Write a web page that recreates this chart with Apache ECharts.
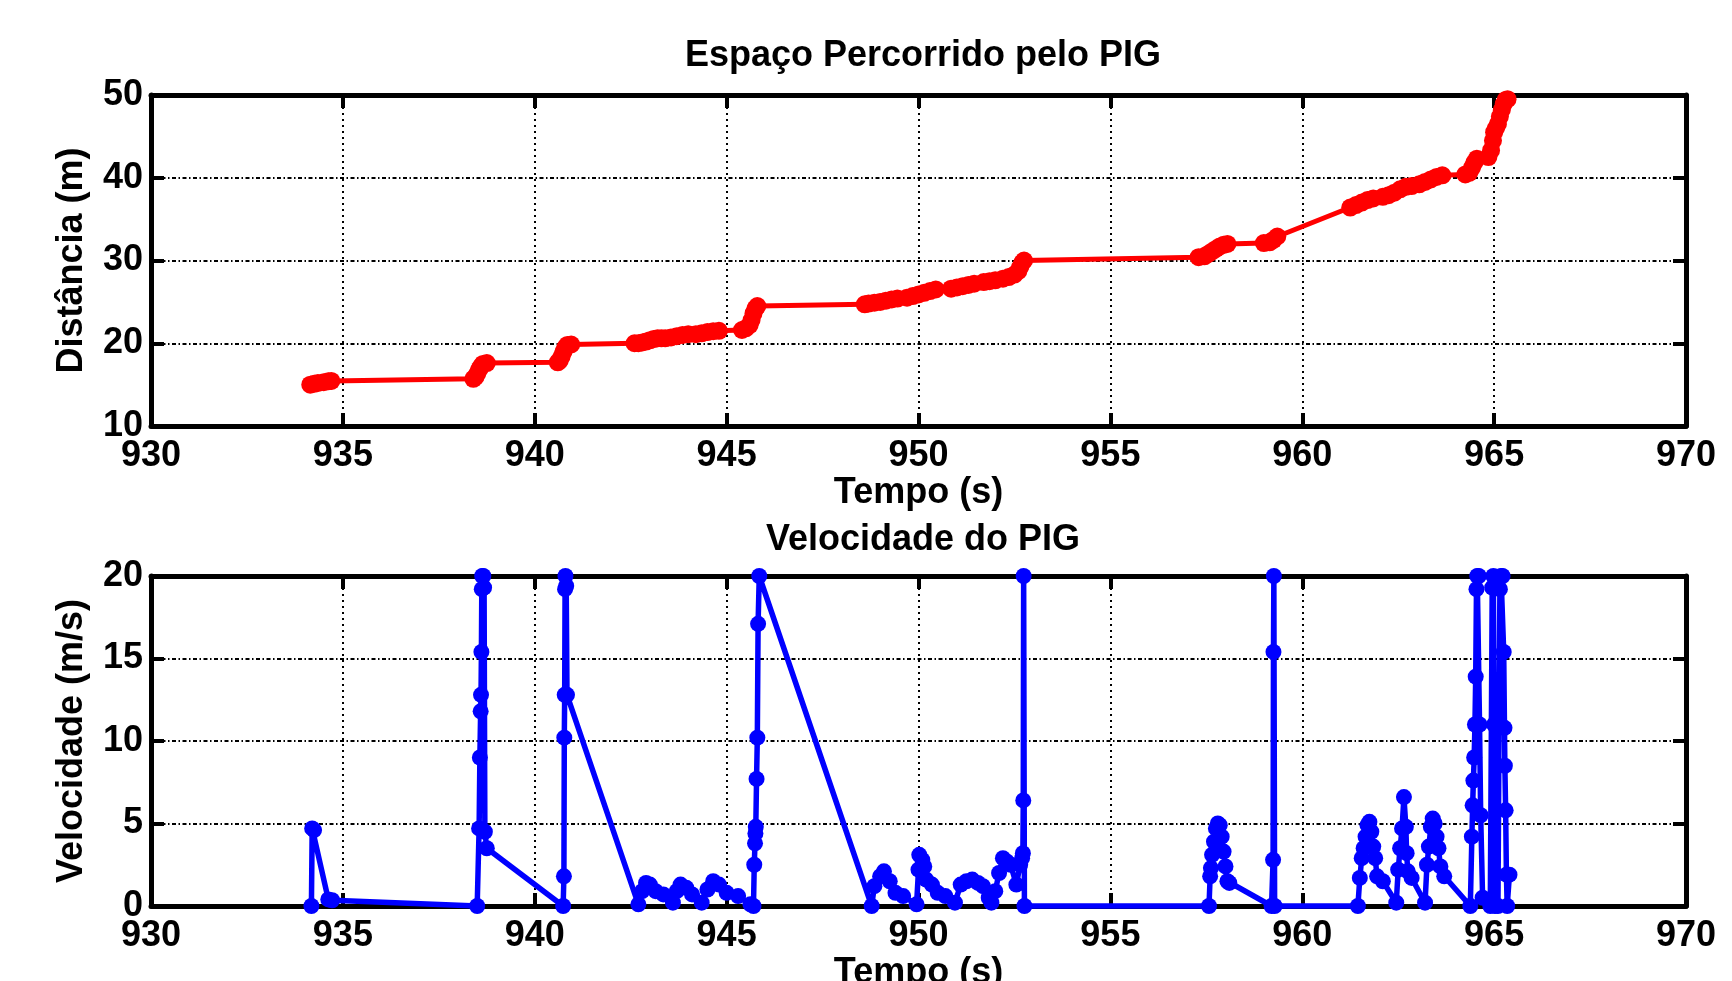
<!DOCTYPE html>
<html>
<head>
<meta charset="utf-8">
<script src="https://cdn.jsdelivr.net/npm/echarts@6/dist/echarts.min.js"></script>
<style>
	html, body { margin: 0; padding: 0; background: #fff; }
	#chart { width: 1732px; height: 981px; }
</style>
</head>
<body>
<div id="chart"></div>
<script>
const distTime = [
	934.15, 934.25, 934.35, 934.5, 934.62, 934.7,
	938.4,
	938.45, 938.5, 938.55, 938.6, 938.65, 938.75,
	940.6,
	940.65, 940.7, 940.75, 940.8, 940.85, 940.95,
	942.6,
	942.7, 942.8, 942.9, 943.0, 943.1, 943.2, 943.3,
	943.4, 943.55, 943.7, 943.85, 944.0,
	944.2, 944.35, 944.5, 944.65, 944.8,
	945.4, 945.5, 945.6, 945.65, 945.7, 945.75, 945.8,
	948.6,
	948.7, 948.85, 949.0, 949.15, 949.3, 949.45,
	949.7, 949.85, 950.0, 950.15, 950.3, 950.45,
	950.85, 951.0, 951.15, 951.3, 951.45,
	951.7, 951.85, 952.0, 952.2, 952.35, 952.5, 952.6, 952.65, 952.7, 952.75,
	957.3,
	957.45, 957.55, 957.65, 957.75, 957.85, 957.95, 958.05,
	959.0, 959.15, 959.25, 959.35,
	961.25, 961.4, 961.55, 961.7, 961.85,
	962.1, 962.25, 962.4, 962.55, 962.7, 962.85,
	963.05, 963.2, 963.35, 963.5, 963.65,
	964.25, 964.35, 964.42, 964.48, 964.55,
	964.85, 964.92, 964.97, 965.0, 965.05,
	965.1, 965.15, 965.2, 965.25, 965.3, 965.35
];
const distValue = [
	15.0, 15.1, 15.2, 15.3, 15.4, 15.45,
	15.7,
	15.9, 16.3, 16.8, 17.2, 17.5, 17.6,
	17.7,
	17.9, 18.4, 19.0, 19.5, 19.8, 19.85,
	20.0,
	20.0, 20.1, 20.2, 20.35, 20.5, 20.6, 20.6,
	20.6, 20.7, 20.85, 21.0, 21.1,
	21.1, 21.2, 21.35, 21.45, 21.5,
	21.6, 21.8, 22.2, 22.8, 23.6, 24.2, 24.5,
	24.7,
	24.8, 24.9, 25.0, 25.15, 25.3, 25.4,
	25.5, 25.7, 25.9, 26.1, 26.3, 26.5,
	26.6, 26.75, 26.9, 27.05, 27.2,
	27.4, 27.5, 27.6, 27.8, 28.0, 28.3, 28.7, 29.2, 29.7, 30.0,
	30.4,
	30.5, 30.8, 31.1, 31.4, 31.7, 31.9, 32.0,
	32.1, 32.2, 32.5, 32.9,
	36.4, 36.7, 37.0, 37.3, 37.5,
	37.7, 37.9, 38.2, 38.6, 38.9, 39.0,
	39.2, 39.5, 39.8, 40.1, 40.3,
	40.4, 40.6, 41.2, 41.8, 42.3,
	42.5, 43.3, 44.5, 45.5, 46.0,
	46.5, 47.4, 48.2, 48.9, 49.4, 49.5
];

const velTime = [
	934.18, 934.2, 934.25, 934.62, 934.72, 938.5,
	938.55, 938.57, 938.59, 938.6, 938.61, 938.62, 938.63, 938.66, 938.68, 938.7, 938.75,
	940.74, 940.76, 940.77, 940.78, 940.79, 940.8, 940.82, 940.84,
	942.7, 942.8, 942.9, 943.0, 943.15, 943.35, 943.6, 943.7, 943.8, 943.95,
	944.1, 944.35, 944.5, 944.65, 944.8, 945.0, 945.3, 945.62, 945.7,
	945.72, 945.74, 945.75, 945.76, 945.78, 945.8, 945.82, 945.85,
	948.78, 948.85, 949.0, 949.1, 949.25, 949.4, 949.6, 949.95,
	950.0, 950.02, 950.1, 950.15, 950.2, 950.35, 950.5, 950.7, 950.95,
	951.1, 951.25, 951.4, 951.55, 951.68, 951.83, 951.9,
	952.0, 952.1, 952.2, 952.3, 952.4, 952.55, 952.65, 952.7, 952.72, 952.73, 952.74, 952.76,
	957.57, 957.6, 957.62, 957.65, 957.7, 957.75, 957.8, 957.85, 957.9, 957.95, 958.0, 958.05, 958.1,
	959.2, 959.24, 959.25, 959.26, 959.28,
	961.45, 961.5, 961.55, 961.6, 961.65, 961.7, 961.75, 961.8, 961.85, 961.9, 961.95, 962.1, 962.45,
	962.5, 962.55, 962.6, 962.65, 962.7, 962.72, 962.75, 962.85, 963.2,
	963.25, 963.3, 963.35, 963.4, 963.45, 963.5, 963.55, 963.6, 963.7,
	964.38, 964.42, 964.44, 964.46, 964.48, 964.5, 964.52, 964.54, 964.56, 964.6,
	964.62, 964.65, 964.7, 964.9, 964.95, 964.98, 965.0, 965.02, 965.1,
	965.15, 965.18, 965.22, 965.25, 965.27, 965.28, 965.3, 965.32, 965.34, 965.4
];
const velValue = [
	0, 4.7, 4.6, 0.4, 0.35, 0,
	4.7, 9.0, 11.8, 12.8, 15.4, 19.2, 20, 20, 19.3, 4.5, 3.5,
	0, 1.8, 10.2, 12.8, 19.2, 20, 19.4, 12.8,
	0.1, 0.9, 1.4, 1.3, 0.9, 0.7, 0.2, 0.9, 1.3, 1.1,
	0.7, 0.2, 1.0, 1.5, 1.3, 0.8, 0.6, 0.1, 0,
	2.5, 3.8, 4.4, 4.8, 7.7, 10.2, 17.1, 20,
	0, 1.2, 1.8, 2.1, 1.5, 0.8, 0.6, 0.1,
	2.2, 3.1, 2.8, 2.4, 1.6, 1.3, 0.8, 0.6, 0.2,
	1.3, 1.5, 1.6, 1.4, 1.2, 0.5, 0.2,
	0.9, 2.0, 2.9, 2.7, 2.5, 1.3, 2.5, 2.9, 3.2, 6.4, 20, 0,
	0, 1.8, 2.3, 3.1, 3.9, 4.7, 5.0, 4.9, 4.2, 3.3, 2.4, 1.5, 1.4,
	0, 2.8, 15.4, 20, 0,
	0, 1.7, 2.9, 3.5, 4.2, 4.9, 5.1, 4.5, 3.6, 2.9, 1.8, 1.5, 0.2,
	2.2, 3.5, 4.7, 6.6, 4.8, 3.2, 2.1, 1.7, 0.2,
	2.5, 3.6, 4.8, 5.3, 5.0, 4.2, 3.5, 2.4, 1.8,
	0, 4.2, 6.1, 7.6, 9.0, 11.0, 13.9, 19.2, 20, 20,
	11.0, 5.5, 0.5, 0, 19.3, 20, 11.0, 0, 0,
	19.2, 20, 20, 15.4, 10.8, 8.5, 5.8, 1.9, 0, 1.9
];

const font = 'Liberation Sans, Arial, Helvetica, sans-serif';
const textStyle = { fontFamily: font, fontWeight: 'bold', fontSize: 36, color: '#000' };

function zip( xs, ys ) {
	return xs.map( ( x, i ) => [ x, ys[ i ] ] );
}

function mainXAxis( gridIndex, nameGap ) {
	return {
		type: 'value',
		gridIndex: gridIndex,
		min: 930,
		max: 970,
		interval: 5,
		name: 'Tempo (s)',
		nameLocation: 'middle',
		nameGap: nameGap,
		nameTextStyle: textStyle,
		axisLine: { onZero: false, lineStyle: { color: '#000', width: 5 } },
		axisTick: { inside: true, length: 13, lineStyle: { color: '#000', width: 4 } },
		axisLabel: Object.assign( { margin: 12 }, textStyle ),
		splitLine: { show: true, lineStyle: { color: '#000', width: 2, type: [ 2, 4 ] } }
	};
}

function mirrorXAxis( gridIndex ) {
	return {
		type: 'value',
		gridIndex: gridIndex,
		position: 'top',
		min: 930,
		max: 970,
		interval: 5,
		axisLine: { onZero: false, lineStyle: { color: '#000', width: 5 } },
		axisTick: { inside: true, length: 13, lineStyle: { color: '#000', width: 4 } },
		axisLabel: { show: false },
		splitLine: { show: false }
	};
}

function mainYAxis( gridIndex, min, max, interval, name ) {
	return {
		type: 'value',
		gridIndex: gridIndex,
		min: min,
		max: max,
		interval: interval,
		name: name,
		nameLocation: 'middle',
		nameGap: 61,
		nameTextStyle: textStyle,
		axisLine: { onZero: false, lineStyle: { color: '#000', width: 5 } },
		axisTick: { inside: true, length: 13, lineStyle: { color: '#000', width: 4 } },
		axisLabel: Object.assign( { margin: 8 }, textStyle ),
		splitLine: { show: true, lineStyle: { color: '#000', width: 2, type: [ 4, 2.5, 1.5, 2.5 ] } }
	};
}

function mirrorYAxis( gridIndex, min, max, interval ) {
	return {
		type: 'value',
		gridIndex: gridIndex,
		position: 'right',
		min: min,
		max: max,
		interval: interval,
		axisLine: { onZero: false, lineStyle: { color: '#000', width: 5 } },
		axisTick: { inside: true, length: 13, lineStyle: { color: '#000', width: 4 } },
		axisLabel: { show: false },
		splitLine: { show: false }
	};
}

const chart = echarts.init( document.getElementById( 'chart' ) );

chart.setOption( {
	animation: false,
	backgroundColor: '#fff',
	title: [
		{ text: 'Espaço Percorrido pelo PIG', left: 918, top: 33, textAlign: 'center', textStyle: textStyle },
		{ text: 'Velocidade do PIG', left: 918, top: 517, textAlign: 'center', textStyle: textStyle }
	],
	grid: [
		{ left: 151, right: 46, top: 95, height: 331, outerBoundsMode: 'none', containLabel: false },
		{ left: 151, right: 46, top: 576, height: 330, outerBoundsMode: 'none', containLabel: false }
	],
	xAxis: [
		mainXAxis( 0, 42 ),
		mirrorXAxis( 0 ),
		mainXAxis( 1, 44 ),
		mirrorXAxis( 1 )
	],
	yAxis: [
		mainYAxis( 0, 10, 50, 10, 'Distância (m)' ),
		mirrorYAxis( 0, 10, 50, 10 ),
		mainYAxis( 1, 0, 20, 5, 'Velocidade (m/s)' ),
		mirrorYAxis( 1, 0, 20, 5 )
	],
	series: [
		{
			type: 'line',
			xAxisIndex: 0,
			yAxisIndex: 0,
			data: zip( distTime, distValue ),
			symbol: 'circle',
			symbolSize: 18,
			clip: false,
			lineStyle: { color: '#ff0000', width: 5 },
			itemStyle: { color: '#ff0000' }
		},
		{
			type: 'line',
			xAxisIndex: 2,
			yAxisIndex: 2,
			data: zip( velTime, velValue ),
			symbol: 'circle',
			symbolSize: 16,
			clip: false,
			lineStyle: { color: '#0000ff', width: 5.5 },
			itemStyle: { color: '#0000ff' }
		}
	]
} );
</script>
</body>
</html>
